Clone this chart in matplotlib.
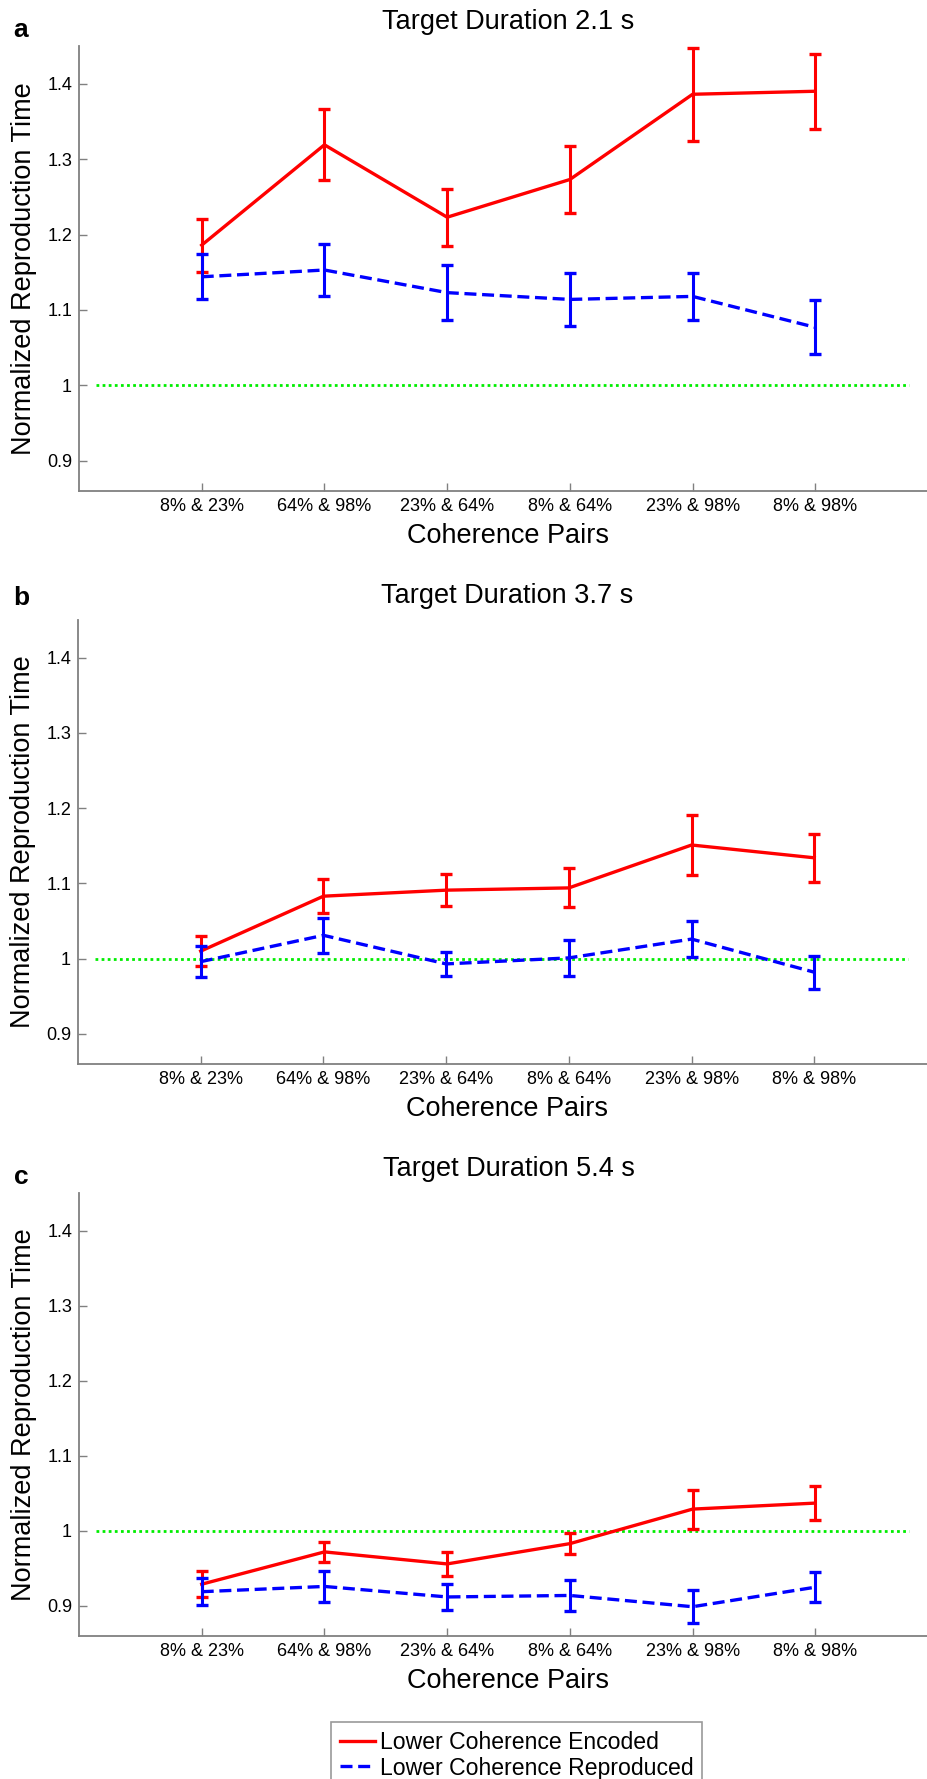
import matplotlib
matplotlib.use("Agg")
import matplotlib.pyplot as plt
import numpy as np

plt.rcParams['font.family'] = ['Liberation Sans', 'DejaVu Sans']

pairs = ["8% & 23%", "64% & 98%", "23% & 64%", "8% & 64%", "23% & 98%", "8% & 98%"]
titles = ["Target Duration 2.1 s", "Target Duration 3.7 s", "Target Duration 5.4 s"]
letters = ["a", "b", "c"]
series_names = ["Lower Coherence Encoded", "Lower Coherence Reproduced"]

enc_a = [1.186, 1.319, 1.223, 1.273, 1.386, 1.390]
enc_a_err = [0.035, 0.047, 0.038, 0.045, 0.062, 0.050]
rep_a = [1.144, 1.153, 1.123, 1.114, 1.118, 1.077]
rep_a_err = [0.030, 0.034, 0.036, 0.035, 0.031, 0.036]

enc_b = [1.010, 1.083, 1.091, 1.094, 1.151, 1.134]
enc_b_err = [0.020, 0.023, 0.021, 0.026, 0.040, 0.032]
rep_b = [0.996, 1.031, 0.993, 1.001, 1.026, 0.982]
rep_b_err = [0.021, 0.023, 0.016, 0.024, 0.024, 0.022]

enc_c = [0.929, 0.972, 0.956, 0.983, 1.029, 1.037]
enc_c_err = [0.017, 0.013, 0.016, 0.014, 0.026, 0.023]
rep_c = [0.919, 0.926, 0.912, 0.914, 0.899, 0.925]
rep_c_err = [0.018, 0.021, 0.017, 0.021, 0.022, 0.020]

encoded = [enc_a, enc_b, enc_c]
encoded_err = [enc_a_err, enc_b_err, enc_c_err]
reproduced = [rep_a, rep_b, rep_c]
reproduced_err = [rep_a_err, rep_b_err, rep_c_err]

yticks = [0.9, 1.0, 1.1, 1.2, 1.3, 1.4]
ytick_labels = ["0.9", "1", "1.1", "1.2", "1.3", "1.4"]
ref_level = 1.0

W, H = 928, 1779
fig = plt.figure(figsize=(W / 100, H / 100), dpi=100)

# pixel boxes (left, right, top, bottom)
boxes = [(79, 938, 46, 491), (78, 937, 620, 1064), (79, 938, 1193, 1636)]
letter_y = [30, 598, 1177]

GRAY = '#808080'
handles = None
for i in range(3):
    l, r, t, b = boxes[i]
    ax = fig.add_axes([l / W, 1 - b / H, (r - l) / W, (b - t) / H])
    x = np.arange(1, len(pairs) + 1)
    ax.plot([0.14, 6.76], [ref_level, ref_level], color='#00ee00', lw=2.0,
            linestyle=(0, (1, 1.2)), zorder=1)
    h1 = ax.errorbar(x, encoded[i], yerr=encoded_err[i], color='#ff0000', lw=2.4,
                     elinewidth=2.2, capsize=4.5, capthick=2.4, zorder=3)
    h2 = ax.errorbar(x, reproduced[i], yerr=reproduced_err[i], color='#0000ff', lw=2.4,
                     elinewidth=2.2, capsize=4.5, capthick=2.4, zorder=4,
                     linestyle=(0, (3.6, 1.7)))
    if handles is None:
        handles = [h1.lines[0], h2.lines[0]]
    ax.set_xlim(0, 7)
    ax.set_ylim(0.86, 1.45)
    ax.set_xticks(x)
    ax.set_xticklabels(pairs, fontsize=13)
    ax.set_yticks(yticks)
    ax.set_yticklabels(ytick_labels, fontsize=13)
    ax.tick_params(direction='in', length=6, width=1, color=GRAY, pad=5)
    for s in ['top', 'right']:
        ax.spines[s].set_visible(False)
    for s in ['left', 'bottom']:
        ax.spines[s].set_color(GRAY)
        ax.spines[s].set_linewidth(1.3)
    ax.set_xlabel("Coherence Pairs", fontsize=19.5, labelpad=6)
    ax.set_ylabel("Normalized Reproduction Time", fontsize=19.5, labelpad=7)
    ax.set_title(titles[i], fontsize=19.5, pad=12)
    fig.text(21 / W, 1 - letter_y[i] / H, letters[i], fontsize=19, fontweight='bold',
             ha='center', va='center')

leg = fig.legend(handles, series_names, loc='upper left',
                 bbox_to_anchor=(331 / W, 1 - 1722 / H), bbox_transform=fig.transFigure,
                 fontsize=16.6, frameon=True, fancybox=False, borderaxespad=0,
                 borderpad=0.38, handlelength=1.55, handletextpad=0.2, labelspacing=0.12)
leg.get_frame().set_edgecolor(GRAY)
leg.get_frame().set_linewidth(1.2)

fig.savefig("out.png", dpi=100)
